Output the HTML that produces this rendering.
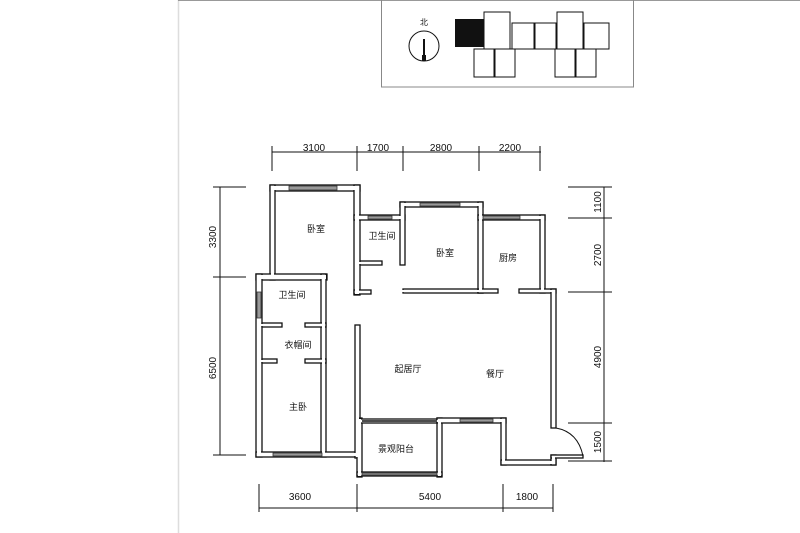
<!DOCTYPE html>
<html><head><meta charset="utf-8"><style>
html,body{margin:0;padding:0;background:#fff;}
svg{display:block;}
text{font-family:"Liberation Sans","Noto Sans CJK SC",sans-serif;fill:#111;}
</style></head><body>
<svg width="800" height="533" viewBox="0 0 800 533" xmlns="http://www.w3.org/2000/svg">
<rect width="800" height="533" fill="#fff"/>
<line x1="178.5" y1="0" x2="178.5" y2="533" stroke="#ddd" stroke-width="1.5"/>
<line x1="178" y1="0.5" x2="800" y2="0.5" stroke="#999" stroke-width="1"/>
<!-- key plan box -->
<rect x="381.5" y="-1" width="252" height="88" fill="none" stroke="#888" stroke-width="1"/>
<text x="424" y="25" font-size="8" text-anchor="middle">北</text>
<circle cx="424" cy="46" r="15" fill="none" stroke="#111" stroke-width="1"/>
<line x1="424" y1="39" x2="424" y2="60" stroke="#111" stroke-width="2"/>
<rect x="422" y="55" width="4" height="6" fill="#111"/>
<g fill="none" stroke="#111" stroke-width="1">
<rect x="484" y="12" width="26" height="37"/>
<rect x="512" y="23" width="22" height="26"/>
<rect x="535" y="23" width="21" height="26"/>
<rect x="557" y="12" width="26" height="37"/>
<rect x="584" y="23" width="25" height="26"/>
<rect x="474" y="49" width="20" height="28"/>
<rect x="495" y="49" width="20" height="28"/>
<rect x="555" y="49" width="20" height="28"/>
<rect x="576" y="49" width="20" height="28"/>
</g>
<rect x="455" y="19" width="29" height="28" fill="#111"/>

<!-- walls -->
<g id="w" stroke="#111" stroke-width="1.3" fill="#fff">
<rect x="270" y="185" width="90" height="6"/>
<rect x="270" y="185" width="5" height="95"/>
<rect x="354" y="185" width="6" height="110"/>
<rect x="354" y="290" width="17" height="4"/>
<rect x="354" y="215" width="51" height="5"/>
<rect x="360" y="261" width="22" height="4"/>
<rect x="400" y="202" width="83" height="5"/>
<rect x="400" y="202" width="5" height="63"/>
<rect x="403" y="289" width="80" height="4"/>
<rect x="478" y="202" width="5" height="91"/>
<rect x="478" y="289" width="20" height="4"/>
<rect x="478" y="215" width="67" height="5"/>
<rect x="540" y="215" width="5" height="78"/>
<rect x="519" y="289" width="37" height="4"/>
<rect x="551" y="289" width="5" height="139"/>
<rect x="256" y="274" width="71" height="6"/>
<rect x="256" y="274" width="6" height="183"/>
<rect x="321" y="274" width="5" height="183"/>
<rect x="262" y="323" width="20" height="4"/>
<rect x="305" y="323" width="21" height="4"/>
<rect x="262" y="359" width="15" height="4"/>
<rect x="305" y="359" width="21" height="4"/>
<rect x="256" y="452" width="104" height="5"/>
<rect x="355" y="325" width="5" height="133"/>
<rect x="357" y="418" width="5" height="59"/>
<rect x="357" y="419" width="80" height="4"/>
<rect x="437" y="418" width="5" height="59"/>
<rect x="357" y="472" width="85" height="4"/>
<rect x="437" y="418" width="69" height="5"/>
<rect x="501" y="418" width="5" height="47"/>
<rect x="501" y="460" width="55" height="5"/>
<rect x="551" y="455" width="5" height="10"/>
<rect x="551" y="455" width="32" height="3"/>
</g>
<g fill="#fff">
<rect x="271" y="186" width="88" height="4"/>
<rect x="271" y="186" width="3" height="93"/>
<rect x="355" y="186" width="4" height="108"/>
<rect x="355" y="291" width="15" height="2"/>
<rect x="355" y="216" width="49" height="3"/>
<rect x="355" y="262" width="26" height="2"/>
<rect x="401" y="203" width="81" height="3"/>
<rect x="401" y="203" width="3" height="61"/>
<rect x="401" y="290" width="81" height="2"/>
<rect x="479" y="203" width="3" height="89"/>
<rect x="479" y="290" width="18" height="2"/>
<rect x="479" y="216" width="65" height="3"/>
<rect x="541" y="216" width="3" height="76"/>
<rect x="520" y="290" width="35" height="2"/>
<rect x="552" y="290" width="3" height="137"/>
<rect x="257" y="275" width="69" height="4"/>
<rect x="257" y="275" width="4" height="181"/>
<rect x="322" y="275" width="3" height="181"/>
<rect x="261" y="324" width="20" height="2"/>
<rect x="306" y="324" width="19" height="2"/>
<rect x="261" y="360" width="15" height="2"/>
<rect x="306" y="360" width="19" height="2"/>
<rect x="257" y="453" width="102" height="3"/>
<rect x="356" y="326" width="3" height="131"/>
<rect x="358" y="419" width="3" height="57"/>
<rect x="358" y="420" width="80" height="2"/>
<rect x="438" y="419" width="3" height="57"/>
<rect x="358" y="473" width="83" height="2"/>
<rect x="438" y="419" width="67" height="3"/>
<rect x="502" y="419" width="3" height="45"/>
<rect x="502" y="461" width="53" height="3"/>
<rect x="552" y="456" width="3" height="8"/>
<rect x="552" y="456" width="30" height="1"/>
</g>
<!-- windows -->
<g fill="#999" stroke="#333" stroke-width="0.8">
<rect x="289" y="186" width="48" height="4"/>
<rect x="368" y="216" width="24" height="3"/>
<rect x="420" y="203" width="40" height="3"/>
<rect x="483" y="216" width="37" height="3"/>
<rect x="257" y="292" width="4" height="26"/>
<rect x="273" y="453" width="49" height="3"/>
<rect x="460" y="419" width="33" height="3"/>
<rect x="362" y="473" width="75" height="2"/>
</g>
<line x1="362" y1="421" x2="437" y2="421" stroke="#111" stroke-width="1.5"/>
<!-- door arc -->
<path d="M556 428 Q578 432 583 456" fill="none" stroke="#111" stroke-width="1"/>

<!-- dimensions -->
<g stroke="#111" stroke-width="1">
<line x1="272" y1="152" x2="541" y2="152"/>
<line x1="272" y1="146" x2="272" y2="171"/>
<line x1="357" y1="146" x2="357" y2="171"/>
<line x1="403" y1="146" x2="403" y2="171"/>
<line x1="479" y1="146" x2="479" y2="171"/>
<line x1="540" y1="146" x2="540" y2="171"/>
<line x1="220" y1="187" x2="220" y2="455"/>
<line x1="213" y1="187" x2="246" y2="187"/>
<line x1="213" y1="277" x2="246" y2="277"/>
<line x1="213" y1="455" x2="246" y2="455"/>
<line x1="604" y1="187" x2="604" y2="462"/>
<line x1="568" y1="187" x2="612" y2="187"/>
<line x1="568" y1="218" x2="612" y2="218"/>
<line x1="568" y1="292" x2="612" y2="292"/>
<line x1="568" y1="423" x2="612" y2="423"/>
<line x1="568" y1="461" x2="612" y2="461"/>
<line x1="259" y1="508" x2="553" y2="508"/>
<line x1="259" y1="484" x2="259" y2="512"/>
<line x1="357" y1="484" x2="357" y2="512"/>
<line x1="503" y1="484" x2="503" y2="512"/>
<line x1="553" y1="484" x2="553" y2="512"/>
</g>
<g font-size="10" text-anchor="middle">
<text x="314" y="151">3100</text>
<text x="378" y="151">1700</text>
<text x="441" y="151">2800</text>
<text x="510" y="151">2200</text>
<text x="300" y="500">3600</text>
<text x="430" y="500">5400</text>
<text x="527" y="500">1800</text>
<text transform="translate(216,237) rotate(-90)">3300</text>
<text transform="translate(216,368) rotate(-90)">6500</text>
<text transform="translate(601,202) rotate(-90)">1100</text>
<text transform="translate(601,255) rotate(-90)">2700</text>
<text transform="translate(601,357) rotate(-90)">4900</text>
<text transform="translate(601,442) rotate(-90)">1500</text>
</g>
<g font-size="9" text-anchor="middle">
<text x="316" y="232">卧室</text>
<text x="382" y="239">卫生间</text>
<text x="445" y="256">卧室</text>
<text x="508" y="261">厨房</text>
<text x="292" y="298">卫生间</text>
<text x="298" y="348">衣帽间</text>
<text x="408" y="372">起居厅</text>
<text x="495" y="377">餐厅</text>
<text x="298" y="410">主卧</text>
<text x="396" y="452">景观阳台</text>
</g>
</svg>
</body></html>
